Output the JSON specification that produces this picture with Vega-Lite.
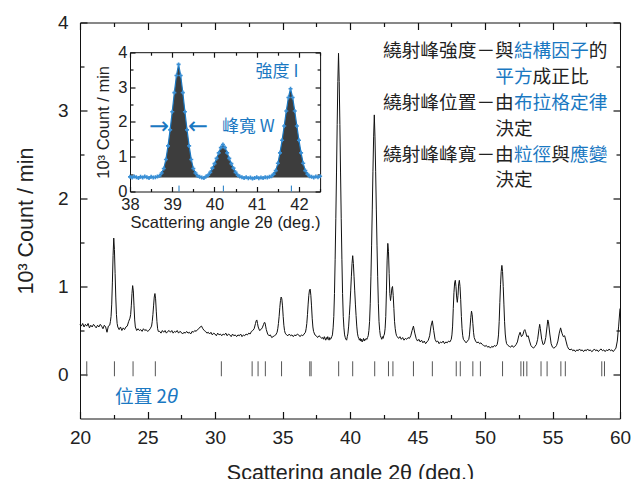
{
"$schema": "https://vega.github.io/schema/vega-lite/v6.json",
"width": 540, "height": 396,
"autosize": {"type": "none"},
"padding": {"left": 80, "top": 22.5, "right": 12, "bottom": 60.5},
"background": "white",
"config": {"view": {"stroke": null}, "axis": {"grid": false, "domainColor": "#111", "tickColor": "#111", "labelColor": "#222", "titleColor": "#222", "labelFont": "Liberation Sans", "titleFont": "Liberation Sans", "titleFontWeight": "normal", "labelOverlap": false, "labelFlush": false, "domainWidth": 1, "tickWidth": 1.2, "zindex": 1}},
"datasets": {
"pattern": [
{"x":20,"y":0.57},{"x":20.1,"y":0.55},{"x":20.2,"y":0.58},{"x":20.3,"y":0.54},{"x":20.4,"y":0.57},{"x":20.5,"y":0.55},{"x":20.6,"y":0.58},{"x":20.7,"y":0.53},{"x":20.8,"y":0.56},{"x":20.9,"y":0.54},{"x":21,"y":0.57},{"x":21.1,"y":0.55},{"x":21.2,"y":0.53},{"x":21.3,"y":0.56},{"x":21.4,"y":0.54},{"x":21.5,"y":0.57},{"x":21.6,"y":0.55},{"x":21.7,"y":0.52},{"x":21.8,"y":0.56},{"x":21.9,"y":0.54},{"x":22,"y":0.48},{"x":22.1,"y":0.55},{"x":22.2,"y":0.56},{"x":22.25,"y":0.6},{"x":22.3,"y":0.66},{"x":22.35,"y":0.8},{"x":22.4,"y":1.05},{"x":22.45,"y":1.35},{"x":22.5,"y":1.55},{"x":22.55,"y":1.42},{"x":22.6,"y":1.15},{"x":22.65,"y":0.88},{"x":22.7,"y":0.68},{"x":22.75,"y":0.58},{"x":22.8,"y":0.54},{"x":22.9,"y":0.51},{"x":23,"y":0.54},{"x":23.1,"y":0.5},{"x":23.2,"y":0.53},{"x":23.3,"y":0.51},{"x":23.4,"y":0.54},{"x":23.5,"y":0.55},{"x":23.6,"y":0.6},{"x":23.7,"y":0.64},{"x":23.75,"y":0.68},{"x":23.8,"y":0.78},{"x":23.85,"y":0.92},{"x":23.9,"y":1.01},{"x":23.95,"y":0.95},{"x":24,"y":0.78},{"x":24.05,"y":0.62},{"x":24.1,"y":0.54},{"x":24.2,"y":0.5},{"x":24.3,"y":0.52},{"x":24.4,"y":0.5},{"x":24.5,"y":0.51},{"x":24.6,"y":0.49},{"x":24.7,"y":0.52},{"x":24.8,"y":0.5},{"x":24.9,"y":0.51},{"x":25,"y":0.49},{"x":25.1,"y":0.5},{"x":25.2,"y":0.52},{"x":25.3,"y":0.55},{"x":25.35,"y":0.6},{"x":25.4,"y":0.68},{"x":25.45,"y":0.78},{"x":25.5,"y":0.88},{"x":25.55,"y":0.92},{"x":25.6,"y":0.86},{"x":25.65,"y":0.72},{"x":25.7,"y":0.6},{"x":25.75,"y":0.52},{"x":25.8,"y":0.49},{"x":25.9,"y":0.49},{"x":26,"y":0.47},{"x":26.1,"y":0.5},{"x":26.2,"y":0.48},{"x":26.3,"y":0.5},{"x":26.4,"y":0.47},{"x":26.5,"y":0.49},{"x":26.6,"y":0.5},{"x":26.7,"y":0.48},{"x":26.8,"y":0.5},{"x":26.9,"y":0.47},{"x":27,"y":0.49},{"x":27.1,"y":0.48},{"x":27.2,"y":0.5},{"x":27.3,"y":0.47},{"x":27.4,"y":0.49},{"x":27.5,"y":0.48},{"x":27.6,"y":0.46},{"x":27.7,"y":0.48},{"x":27.8,"y":0.47},{"x":27.9,"y":0.49},{"x":28,"y":0.47},{"x":28.1,"y":0.48},{"x":28.2,"y":0.46},{"x":28.3,"y":0.49},{"x":28.4,"y":0.48},{"x":28.5,"y":0.5},{"x":28.6,"y":0.49},{"x":28.7,"y":0.51},{"x":28.8,"y":0.52},{"x":28.9,"y":0.54},{"x":29,"y":0.55},{"x":29.1,"y":0.52},{"x":29.2,"y":0.5},{"x":29.3,"y":0.49},{"x":29.4,"y":0.47},{"x":29.5,"y":0.48},{"x":29.6,"y":0.46},{"x":29.7,"y":0.48},{"x":29.8,"y":0.45},{"x":29.9,"y":0.47},{"x":30,"y":0.46},{"x":30.1,"y":0.44},{"x":30.2,"y":0.47},{"x":30.3,"y":0.45},{"x":30.4,"y":0.46},{"x":30.5,"y":0.44},{"x":30.6,"y":0.46},{"x":30.7,"y":0.45},{"x":30.8,"y":0.47},{"x":30.9,"y":0.44},{"x":31,"y":0.46},{"x":31.1,"y":0.45},{"x":31.2,"y":0.43},{"x":31.3,"y":0.46},{"x":31.4,"y":0.44},{"x":31.5,"y":0.45},{"x":31.6,"y":0.43},{"x":31.7,"y":0.45},{"x":31.8,"y":0.44},{"x":31.9,"y":0.46},{"x":32,"y":0.43},{"x":32.1,"y":0.45},{"x":32.2,"y":0.44},{"x":32.3,"y":0.46},{"x":32.4,"y":0.45},{"x":32.5,"y":0.47},{"x":32.6,"y":0.46},{"x":32.7,"y":0.49},{"x":32.8,"y":0.5},{"x":32.9,"y":0.52},{"x":33,"y":0.58},{"x":33.05,"y":0.61},{"x":33.1,"y":0.62},{"x":33.15,"y":0.58},{"x":33.2,"y":0.54},{"x":33.3,"y":0.5},{"x":33.4,"y":0.51},{"x":33.5,"y":0.53},{"x":33.6,"y":0.57},{"x":33.65,"y":0.59},{"x":33.7,"y":0.59},{"x":33.75,"y":0.55},{"x":33.8,"y":0.51},{"x":33.9,"y":0.46},{"x":34,"y":0.44},{"x":34.1,"y":0.45},{"x":34.2,"y":0.42},{"x":34.3,"y":0.43},{"x":34.4,"y":0.44},{"x":34.5,"y":0.45},{"x":34.6,"y":0.48},{"x":34.65,"y":0.52},{"x":34.7,"y":0.58},{"x":34.75,"y":0.66},{"x":34.8,"y":0.76},{"x":34.85,"y":0.84},{"x":34.9,"y":0.88},{"x":34.95,"y":0.86},{"x":35,"y":0.78},{"x":35.05,"y":0.66},{"x":35.1,"y":0.56},{"x":35.15,"y":0.5},{"x":35.2,"y":0.47},{"x":35.3,"y":0.45},{"x":35.4,"y":0.44},{"x":35.5,"y":0.46},{"x":35.6,"y":0.44},{"x":35.7,"y":0.45},{"x":35.8,"y":0.43},{"x":35.9,"y":0.45},{"x":36,"y":0.44},{"x":36.1,"y":0.46},{"x":36.2,"y":0.45},{"x":36.3,"y":0.43},{"x":36.4,"y":0.45},{"x":36.5,"y":0.44},{"x":36.6,"y":0.46},{"x":36.7,"y":0.48},{"x":36.75,"y":0.52},{"x":36.8,"y":0.58},{"x":36.85,"y":0.68},{"x":36.9,"y":0.8},{"x":36.95,"y":0.9},{"x":37,"y":0.96},{"x":37.05,"y":0.97},{"x":37.1,"y":0.9},{"x":37.15,"y":0.78},{"x":37.2,"y":0.64},{"x":37.25,"y":0.54},{"x":37.3,"y":0.49},{"x":37.4,"y":0.45},{"x":37.5,"y":0.44},{"x":37.6,"y":0.42},{"x":37.7,"y":0.44},{"x":37.8,"y":0.43},{"x":37.9,"y":0.41},
{"x":38,"y":0.42},{"x":38.05,"y":0.4},{"x":38.1,"y":0.43},{"x":38.15,"y":0.41},{"x":38.2,"y":0.39},{"x":38.25,"y":0.42},{"x":38.3,"y":0.4},{"x":38.35,"y":0.43},{"x":38.4,"y":0.41},{"x":38.45,"y":0.39},{"x":38.5,"y":0.42},{"x":38.55,"y":0.4},{"x":38.6,"y":0.41},{"x":38.65,"y":0.43},{"x":38.7,"y":0.45},{"x":38.75,"y":0.53},{"x":38.8,"y":0.66},{"x":38.85,"y":0.92},{"x":38.9,"y":1.31},{"x":38.95,"y":1.77},{"x":39,"y":2.29},{"x":39.05,"y":2.84},{"x":39.1,"y":3.33},{"x":39.15,"y":3.65},{"x":39.2,"y":3.33},{"x":39.25,"y":2.84},{"x":39.3,"y":2.29},{"x":39.35,"y":1.77},{"x":39.4,"y":1.31},{"x":39.45,"y":0.92},{"x":39.5,"y":0.66},{"x":39.55,"y":0.53},{"x":39.6,"y":0.45},{"x":39.65,"y":0.42},{"x":39.7,"y":0.4},{"x":39.75,"y":0.39},{"x":39.8,"y":0.43},{"x":39.85,"y":0.47},{"x":39.9,"y":0.55},{"x":39.95,"y":0.67},{"x":40,"y":0.8},{"x":40.05,"y":0.95},{"x":40.1,"y":1.11},{"x":40.15,"y":1.26},{"x":40.2,"y":1.35},{"x":40.25,"y":1.26},{"x":40.3,"y":1.11},{"x":40.35,"y":0.95},{"x":40.4,"y":0.8},{"x":40.45,"y":0.67},{"x":40.5,"y":0.55},{"x":40.55,"y":0.47},{"x":40.6,"y":0.43},{"x":40.65,"y":0.41},{"x":40.7,"y":0.39},{"x":40.75,"y":0.41},{"x":40.8,"y":0.38},{"x":40.85,"y":0.4},{"x":40.9,"y":0.37},{"x":40.95,"y":0.39},{"x":41,"y":0.41},{"x":41.05,"y":0.38},{"x":41.1,"y":0.4},{"x":41.15,"y":0.39},{"x":41.2,"y":0.41},{"x":41.25,"y":0.4},{"x":41.3,"y":0.42},{"x":41.35,"y":0.44},{"x":41.4,"y":0.5},{"x":41.45,"y":0.6},{"x":41.5,"y":0.81},{"x":41.55,"y":1.11},{"x":41.6,"y":1.47},{"x":41.65,"y":1.88},{"x":41.7,"y":2.31},{"x":41.75,"y":2.7},{"x":41.8,"y":2.95},{"x":41.85,"y":2.7},{"x":41.9,"y":2.31},{"x":41.95,"y":1.88},{"x":42,"y":1.47},{"x":42.05,"y":1.11},{"x":42.1,"y":0.81},{"x":42.15,"y":0.6},{"x":42.2,"y":0.5},{"x":42.25,"y":0.44},{"x":42.3,"y":0.42},{"x":42.35,"y":0.4},{"x":42.4,"y":0.43},{"x":42.45,"y":0.41},{"x":42.5,"y":0.44},
{"x":42.55,"y":0.46},{"x":42.6,"y":0.52},{"x":42.65,"y":0.66},{"x":42.7,"y":0.95},{"x":42.75,"y":1.3},{"x":42.8,"y":1.49},{"x":42.85,"y":1.4},{"x":42.9,"y":1.15},{"x":42.95,"y":0.92},{"x":43,"y":0.84},{"x":43.05,"y":0.9},{"x":43.1,"y":0.98},{"x":43.15,"y":1},{"x":43.2,"y":0.9},{"x":43.25,"y":0.75},{"x":43.3,"y":0.6},{"x":43.35,"y":0.52},{"x":43.4,"y":0.47},{"x":43.45,"y":0.44},{"x":43.5,"y":0.43},{"x":43.6,"y":0.41},{"x":43.7,"y":0.43},{"x":43.8,"y":0.4},{"x":43.9,"y":0.42},{"x":44,"y":0.39},{"x":44.1,"y":0.41},{"x":44.2,"y":0.4},{"x":44.3,"y":0.42},{"x":44.4,"y":0.41},{"x":44.5,"y":0.44},{"x":44.6,"y":0.5},{"x":44.7,"y":0.55},{"x":44.8,"y":0.47},{"x":44.9,"y":0.41},{"x":45,"y":0.38},{"x":45.1,"y":0.4},{"x":45.2,"y":0.37},{"x":45.3,"y":0.39},{"x":45.4,"y":0.36},{"x":45.5,"y":0.38},{"x":45.6,"y":0.35},{"x":45.7,"y":0.37},{"x":45.8,"y":0.39},{"x":45.9,"y":0.44},{"x":46,"y":0.55},{"x":46.1,"y":0.61},{"x":46.2,"y":0.5},{"x":46.3,"y":0.4},{"x":46.4,"y":0.37},{"x":46.5,"y":0.38},{"x":46.6,"y":0.35},{"x":46.7,"y":0.37},{"x":46.8,"y":0.36},{"x":46.9,"y":0.38},{"x":47,"y":0.35},{"x":47.1,"y":0.37},{"x":47.2,"y":0.36},{"x":47.3,"y":0.38},{"x":47.4,"y":0.37},{"x":47.5,"y":0.4},{"x":47.55,"y":0.45},{"x":47.6,"y":0.55},{"x":47.65,"y":0.75},{"x":47.7,"y":0.93},{"x":47.75,"y":1.04},{"x":47.8,"y":1.07},{"x":47.85,"y":1},{"x":47.9,"y":0.88},{"x":47.95,"y":0.82},{"x":48,"y":0.9},{"x":48.05,"y":1.03},{"x":48.1,"y":1.07},{"x":48.15,"y":1},{"x":48.2,"y":0.85},{"x":48.25,"y":0.66},{"x":48.3,"y":0.52},{"x":48.35,"y":0.44},{"x":48.4,"y":0.4},{"x":48.5,"y":0.38},{"x":48.6,"y":0.36},{"x":48.7,"y":0.38},{"x":48.8,"y":0.4},{"x":48.85,"y":0.45},{"x":48.9,"y":0.55},{"x":48.95,"y":0.65},{"x":49,"y":0.72},{"x":49.05,"y":0.68},{"x":49.1,"y":0.58},{"x":49.15,"y":0.48},{"x":49.2,"y":0.42},{"x":49.3,"y":0.38},{"x":49.4,"y":0.36},{"x":49.5,"y":0.37},{"x":49.6,"y":0.35},{"x":49.7,"y":0.36},{"x":49.8,"y":0.34},{"x":49.9,"y":0.33},{"x":50,"y":0.32},{"x":50.1,"y":0.33},{"x":50.2,"y":0.31},{"x":50.3,"y":0.32},{"x":50.4,"y":0.3},{"x":50.5,"y":0.32},{"x":50.6,"y":0.31},{"x":50.7,"y":0.33},{"x":50.8,"y":0.32},{"x":50.9,"y":0.34},{"x":50.95,"y":0.38},{"x":51,"y":0.45},{"x":51.05,"y":0.6},{"x":51.1,"y":0.82},{"x":51.15,"y":1.02},{"x":51.2,"y":1.17},{"x":51.25,"y":1.24},{"x":51.3,"y":1.17},{"x":51.35,"y":1},{"x":51.4,"y":0.8},{"x":51.45,"y":0.6},{"x":51.5,"y":0.46},{"x":51.55,"y":0.39},{"x":51.6,"y":0.35},{"x":51.7,"y":0.33},{"x":51.8,"y":0.32},{"x":51.9,"y":0.31},{"x":52,"y":0.33},{"x":52.1,"y":0.31},{"x":52.2,"y":0.32},{"x":52.3,"y":0.34},{"x":52.4,"y":0.37},{"x":52.5,"y":0.44},{"x":52.6,"y":0.48},{"x":52.7,"y":0.43},{"x":52.8,"y":0.45},{"x":52.9,"y":0.5},{"x":52.95,"y":0.51},{"x":53,"y":0.49},{"x":53.1,"y":0.43},{"x":53.2,"y":0.44},{"x":53.3,"y":0.38},{"x":53.4,"y":0.33},{"x":53.5,"y":0.31},{"x":53.6,"y":0.3},{"x":53.7,"y":0.32},{"x":53.8,"y":0.34},{"x":53.9,"y":0.4},{"x":54,"y":0.52},{"x":54.05,"y":0.57},{"x":54.1,"y":0.52},{"x":54.2,"y":0.4},{"x":54.3,"y":0.34},{"x":54.4,"y":0.35},{"x":54.5,"y":0.42},{"x":54.6,"y":0.55},{"x":54.65,"y":0.62},{"x":54.7,"y":0.6},{"x":54.8,"y":0.46},{"x":54.9,"y":0.35},{"x":55,"y":0.31},{"x":55.1,"y":0.3},{"x":55.2,"y":0.31},{"x":55.3,"y":0.33},{"x":55.4,"y":0.38},{"x":55.5,"y":0.47},{"x":55.6,"y":0.53},{"x":55.7,"y":0.47},{"x":55.8,"y":0.43},{"x":55.9,"y":0.44},{"x":56,"y":0.38},{"x":56.1,"y":0.32},{"x":56.2,"y":0.29},{"x":56.3,"y":0.28},{"x":56.4,"y":0.29},{"x":56.5,"y":0.27},{"x":56.6,"y":0.28},{"x":56.7,"y":0.26},{"x":56.8,"y":0.28},{"x":56.9,"y":0.27},{"x":57,"y":0.29},{"x":57.1,"y":0.27},{"x":57.2,"y":0.28},{"x":57.3,"y":0.26},{"x":57.4,"y":0.28},{"x":57.5,"y":0.27},{"x":57.6,"y":0.29},{"x":57.7,"y":0.27},{"x":57.8,"y":0.28},{"x":57.9,"y":0.26},{"x":58,"y":0.27},{"x":58.1,"y":0.29},{"x":58.2,"y":0.27},{"x":58.3,"y":0.28},{"x":58.4,"y":0.26},{"x":58.5,"y":0.28},{"x":58.6,"y":0.29},{"x":58.7,"y":0.27},{"x":58.8,"y":0.28},{"x":58.9,"y":0.26},{"x":59,"y":0.28},{"x":59.1,"y":0.27},{"x":59.2,"y":0.29},{"x":59.3,"y":0.27},{"x":59.4,"y":0.28},{"x":59.5,"y":0.26},{"x":59.6,"y":0.28},{"x":59.7,"y":0.3},{"x":59.8,"y":0.38},{"x":59.9,"y":0.55},{"x":60,"y":0.75}
],
"peaks": [{"x":20.5},{"x":22.55},{"x":23.93},{"x":25.58},{"x":30.47},{"x":32.75},{"x":33.19},{"x":33.73},{"x":34.93},{"x":37.02},{"x":37.12},{"x":39.16},{"x":40.2},{"x":41.83},{"x":42.85},{"x":43.18},{"x":44.7},{"x":46.1},{"x":47.87},{"x":48.17},{"x":49.1},{"x":49.66},{"x":51.3},{"x":52.66},{"x":52.86},{"x":53.1},{"x":54.15},{"x":54.6},{"x":55.62},{"x":55.95},{"x":58.65},{"x":58.85}],
"notes": [
{"x":42.444,"y":3.68,"t":"繞射峰強度－與","k":"text"},
{"x":52.141,"y":3.68,"t":"結構因子","k":"term"},
{"x":57.681,"y":3.68,"t":"的","k":"text"},
{"x":50.756,"y":3.386,"t":"平方","k":"term"},
{"x":53.526,"y":3.386,"t":"成正比","k":"text"},
{"x":42.444,"y":3.09,"t":"繞射峰位置－由","k":"text"},
{"x":52.141,"y":3.09,"t":"布拉格定律","k":"term"},
{"x":50.756,"y":2.795,"t":"決定","k":"text"},
{"x":42.444,"y":2.5,"t":"繞射峰峰寬－由","k":"text"},
{"x":52.141,"y":2.5,"t":"粒徑","k":"term"},
{"x":54.911,"y":2.5,"t":"與","k":"text"},
{"x":56.296,"y":2.5,"t":"應變","k":"term"},
{"x":50.756,"y":2.205,"t":"決定","k":"text"}
],
"position": [{"x":22.59,"y":-0.26,"t":"位置 2"}],
"insetNotes": [{"x":41.48,"y":3.42,"t":"強度 I"},{"x":40.8,"y":1.84,"t":"峰寬 W"}],
"arrows": [{"x":38.69,"y":1.84,"t":"→"},{"x":39.61,"y":1.84,"t":"←"}],
"insetTicks": [{"x":39.16},{"x":40.21},{"x":41.82}]
},
"resolve": {"scale": {"x": "independent", "y": "independent"}, "axis": {"x": "independent", "y": "independent"}},
"layer": [
{"data": {"name": "pattern"}, "mark": {"type": "line", "color": "#111", "strokeWidth": 1},
 "encoding": {
  "x": {"field": "x", "type": "quantitative", "scale": {"domain": [20, 60], "nice": false, "zero": false},
   "axis": {"orient": "bottom", "values": [20,25,30,35,40,45,50,55,60], "format": "d", "ticks": false, "labelFontSize": 19, "labelPadding": 10, "title": "Scattering angle 2θ (deg.)", "titleFontSize": 21.5, "titlePadding": 15}},
  "y": {"field": "y", "type": "quantitative", "scale": {"domain": [-0.5, 4], "nice": false, "zero": false},
   "axis": {"orient": "left", "values": [0,1,2,3,4], "format": "d", "ticks": false, "labelFontSize": 19, "labelPadding": 12, "title": "10³ Count / min", "titleFontSize": 21.5, "titlePadding": 20}}
 }},
{"data": {"name": "peaks"}, "mark": {"type": "rule", "color": "#555", "strokeWidth": 1},
 "encoding": {
  "x": {"field": "x", "type": "quantitative", "scale": {"domain": [20, 60], "nice": false, "zero": false},
   "axis": {"orient": "top", "offset": -396, "values": [20,25,30,35,40,45,50,55,60], "labels": false, "title": null, "domain": false, "tickSize": 7}},
  "y": {"datum": -0.02, "type": "quantitative", "scale": {"domain": [-0.5, 4], "nice": false, "zero": false},
   "axis": {"orient": "right", "offset": -540, "values": [0,1,2,3,4], "labels": false, "title": null, "domain": false, "tickSize": 7}},
  "y2": {"datum": 0.15}
 }},
{"data": {"name": "notes"}, "mark": {"type": "text", "align": "left", "baseline": "middle", "font": "Noto Sans CJK TC", "fontSize": 18.7},
 "encoding": {
  "x": {"field": "x", "type": "quantitative", "scale": {"domain": [20, 60], "nice": false, "zero": false},
   "axis": {"orient": "bottom", "offset": -396, "values": [20,25,30,35,40,45,50,55,60], "labels": false, "title": null, "domain": true, "tickSize": 7}},
  "y": {"field": "y", "type": "quantitative", "scale": {"domain": [-0.5, 4], "nice": false, "zero": false},
   "axis": {"orient": "left", "offset": -540, "values": [0,1,2,3,4], "labels": false, "title": null, "domain": true, "tickSize": 7}},
  "text": {"field": "t"},
  "color": {"field": "k", "type": "nominal", "scale": {"domain": ["text", "term"], "range": ["#222222", "#1a78c2"]}, "legend": null}
 }},
{"data": {"values": [{"x": 26.45, "y": -0.26, "t": "θ"}]}, "mark": {"type": "text", "align": "left", "baseline": "middle", "font": "Liberation Sans", "fontStyle": "italic", "fontSize": 20, "color": "#1a78c2"},
 "encoding": {
  "x": {"field": "x", "type": "quantitative", "scale": {"domain": [20, 60], "nice": false, "zero": false},
   "axis": {"orient": "top", "offset": -396, "values": [22.5,27.5,32.5,37.5,42.5,47.5,52.5,57.5], "labels": false, "title": null, "domain": false, "tickSize": 4}},
  "y": {"field": "y", "type": "quantitative", "scale": {"domain": [-0.5, 4], "nice": false, "zero": false},
   "axis": {"orient": "right", "offset": -540, "values": [0.5,1.5,2.5,3.5], "labels": false, "title": null, "domain": false, "tickSize": 4}},
  "text": {"field": "t"}
 }},
{"data": {"name": "position"}, "mark": {"type": "text", "align": "left", "baseline": "middle", "font": "Noto Sans CJK TC", "fontSize": 18.7, "color": "#1a78c2"},
 "encoding": {
  "x": {"field": "x", "type": "quantitative", "scale": {"domain": [20, 60], "nice": false, "zero": false},
   "axis": {"orient": "bottom", "offset": -396, "values": [22.5,27.5,32.5,37.5,42.5,47.5,52.5,57.5], "labels": false, "title": null, "domain": false, "tickSize": 4}},
  "y": {"field": "y", "type": "quantitative", "scale": {"domain": [-0.5, 4], "nice": false, "zero": false},
   "axis": {"orient": "left", "offset": -540, "values": [0.5,1.5,2.5,3.5], "labels": false, "title": null, "domain": false, "tickSize": 4}},
  "text": {"field": "t"}
 }},
{"data": {"name": "pattern"}, "transform": [{"filter": "datum.x >= 38 && datum.x <= 42.5"}], "mark": {"type": "area", "color": "#3d3d3d"},
 "encoding": {
  "x": {"field": "x", "type": "quantitative", "scale": {"domain": [38, 42.5], "range": [50, 240.1], "nice": false, "zero": false},
   "axis": {"orient": "bottom", "offset": -227, "values": [38,39,40,41,42], "format": "d", "ticks": false, "labelFontSize": 16.5, "labelPadding": 5, "title": "Scattering angle 2θ (deg.)", "titleFontSize": 16.5, "titlePadding": 1}},
  "y": {"field": "y", "type": "quantitative", "scale": {"domain": [0, 4], "range": [169, 29.7], "nice": false, "zero": false},
   "axis": {"orient": "left", "offset": -50, "values": [0,1,2,3,4], "format": "d", "ticks": false, "labelFontSize": 16.5, "labelPadding": 3, "title": "10³ Count / min", "titleFontSize": 16.5, "titlePadding": 6}},
  "y2": {"datum": 0.4}
 }},
{"data": {"name": "pattern"}, "transform": [{"filter": "datum.x >= 38 && datum.x <= 42.5"}], "mark": {"type": "line", "color": "#1a78c2", "strokeWidth": 1.2},
 "encoding": {
  "x": {"field": "x", "type": "quantitative", "scale": {"domain": [38, 42.5], "range": [50, 240.1], "nice": false, "zero": false},
   "axis": {"orient": "top", "offset": -169, "values": [38,39,40,41,42], "labels": false, "title": null, "domain": false, "tickSize": 5}},
  "y": {"field": "y", "type": "quantitative", "scale": {"domain": [0, 4], "range": [169, 29.7], "nice": false, "zero": false},
   "axis": {"orient": "right", "offset": -490, "values": [0,1,2,3,4], "labels": false, "title": null, "domain": false, "tickSize": 5}}
 }},
{"data": {"name": "pattern"}, "transform": [{"filter": "datum.x >= 38 && datum.x <= 42.5"}], "mark": {"type": "point", "shape": "cross", "filled": true, "size": 16, "color": "#3a90d6", "opacity": 1},
 "encoding": {
  "x": {"field": "x", "type": "quantitative", "scale": {"domain": [38, 42.5], "range": [50, 240.1], "nice": false, "zero": false},
   "axis": {"orient": "bottom", "offset": -366.3, "values": [38,39,40,41,42], "labels": false, "title": null, "domain": true, "tickSize": 5}},
  "y": {"field": "y", "type": "quantitative", "scale": {"domain": [0, 4], "range": [169, 29.7], "nice": false, "zero": false},
   "axis": {"orient": "left", "offset": -240.1, "values": [0,1,2,3,4], "labels": false, "title": null, "domain": true, "tickSize": 5}}
 }},
{"data": {"name": "insetTicks"}, "mark": {"type": "rule", "color": "#1a78c2", "strokeWidth": 1},
 "encoding": {
  "x": {"field": "x", "type": "quantitative", "scale": {"domain": [38, 42.5], "range": [50, 240.1], "nice": false, "zero": false},
   "axis": {"orient": "top", "offset": -169, "values": [38.5,39.5,40.5,41.5,42.5], "labels": false, "title": null, "domain": false, "tickSize": 3}},
  "y": {"datum": 0, "type": "quantitative", "scale": {"domain": [0, 4], "range": [169, 29.7], "nice": false, "zero": false},
   "axis": {"orient": "right", "offset": -490, "values": [0.5,1.5,2.5,3.5], "labels": false, "title": null, "domain": false, "tickSize": 3}},
  "y2": {"datum": 0.17}
 }},
{"data": {"name": "insetNotes"}, "mark": {"type": "text", "align": "center", "baseline": "middle", "font": "Noto Sans CJK TC", "fontSize": 17, "color": "#1a78c2"},
 "encoding": {
  "x": {"field": "x", "type": "quantitative", "scale": {"domain": [38, 42.5], "range": [50, 240.1], "nice": false, "zero": false},
   "axis": {"orient": "bottom", "offset": -366.3, "values": [38.5,39.5,40.5,41.5,42.5], "labels": false, "title": null, "domain": false, "tickSize": 3}},
  "y": {"field": "y", "type": "quantitative", "scale": {"domain": [0, 4], "range": [169, 29.7], "nice": false, "zero": false},
   "axis": {"orient": "left", "offset": -240.1, "values": [0.5,1.5,2.5,3.5], "labels": false, "title": null, "domain": false, "tickSize": 3}},
  "text": {"field": "t"}
 }},
{"data": {"name": "arrows"}, "mark": {"type": "text", "align": "center", "baseline": "middle", "font": "DejaVu Sans", "fontSize": 24, "color": "#1a78c2"},
 "encoding": {
  "x": {"field": "x", "type": "quantitative", "scale": {"domain": [38, 42.5], "range": [50, 240.1], "nice": false, "zero": false}, "axis": null},
  "y": {"field": "y", "type": "quantitative", "scale": {"domain": [0, 4], "range": [169, 29.7], "nice": false, "zero": false}, "axis": null},
  "text": {"field": "t"}
 }}
]
}
